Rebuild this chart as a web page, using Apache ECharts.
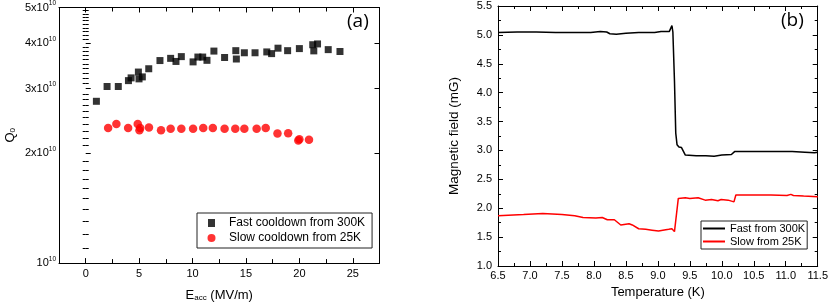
<!DOCTYPE html>
<html><head><meta charset="utf-8">
<script src="https://cdn.jsdelivr.net/npm/echarts@6/dist/echarts.min.js"></script>
<style>html,body{margin:0;padding:0;background:#fff}#c{width:831px;height:307px}</style>
</head><body><div id="c"></div>
<script>
// ---- Panel (a): Q0 vs Eacc ----
const fastE = [1.0, 2.0, 3.05, 4.0, 4.25, 4.93, 4.99, 5.3, 5.9, 6.95, 7.95, 8.45, 8.95, 10.05, 10.5, 10.95, 11.35, 12.0, 13.0, 14.05, 14.1, 14.85, 15.85, 16.95, 17.4, 18.0, 18.9, 20.0, 21.25, 21.7, 21.35, 22.7, 23.8];
const fastQ = [2.77e10, 3.04e10, 3.04e10, 3.155e10, 3.21e10, 3.33e10, 3.19e10, 3.23e10, 3.40e10, 3.58e10, 3.63e10, 3.56e10, 3.67e10, 3.55e10, 3.66e10, 3.66e10, 3.585e10, 3.80e10, 3.65e10, 3.81e10, 3.615e10, 3.76e10, 3.76e10, 3.78e10, 3.74e10, 3.87e10, 3.81e10, 3.86e10, 3.955e10, 3.975e10, 3.805e10, 3.835e10, 3.79e10];
const slowE = [2.1, 2.87, 3.97, 4.87, 5.03, 5.1, 5.92, 7.05, 7.95, 8.95, 10.05, 11.0, 11.9, 13.0, 14.0, 14.85, 16.0, 16.85, 17.95, 18.95, 19.9, 20.0, 20.9];
const slowQ = [2.34e10, 2.40e10, 2.34e10, 2.40e10, 2.31e10, 2.34e10, 2.35e10, 2.31e10, 2.33e10, 2.33e10, 2.33e10, 2.34e10, 2.34e10, 2.33e10, 2.33e10, 2.33e10, 2.33e10, 2.34e10, 2.26e10, 2.265e10, 2.165e10, 2.18e10, 2.175e10];
const eTicks = [0, 5, 10, 15, 20, 25];
const eMinorTicks = [2.5, 7.5, 12.5, 17.5, 22.5];
const qTicks = [1e10, 2e10, 3e10, 4e10, 5e10];
const qTickLabels = ['10', '2x10', '3x10', '4x10', '5x10'];
const qMinorMantissa = [1.1,1.2,1.3,1.4,1.5,1.6,1.7,1.8,1.9,2.1,2.2,2.3,2.4,2.5,2.6,2.7,2.8,2.9,3.1,3.2,3.3,3.4,3.5,3.6,3.7,3.8,3.9,4.1,4.2,4.3,4.4,4.5,4.6,4.7,4.8,4.9];
const seriesNamesA = ['Fast cooldown from 300K', 'Slow cooldown from 25K'];

// ---- Panel (b): magnetic field vs temperature ----
const fastT = [6.5, 6.8, 7.1, 7.4, 7.7, 7.95, 8.1, 8.2, 8.25, 8.35, 8.5, 8.7, 8.95, 9.05, 9.18, 9.2, 9.22, 9.235, 9.26, 9.28, 9.3, 9.33, 9.37, 9.4, 9.43, 9.6, 9.75, 9.88, 10.0, 10.15, 10.18, 10.2, 10.5, 10.8, 11.1, 11.3, 11.45, 11.5];
const fastB = [5.04, 5.05, 5.05, 5.04, 5.04, 5.04, 5.06, 5.05, 5.02, 5.01, 5.03, 5.04, 5.04, 5.06, 5.06, 5.06, 5.16, 5.05, 4.2, 3.3, 3.1, 3.06, 3.05, 3.04, 2.92, 2.91, 2.91, 2.90, 2.92, 2.93, 2.94, 2.98, 2.98, 2.98, 2.98, 2.97, 2.96, 2.97];
const slowT = [6.5, 6.9, 7.2, 7.5, 7.7, 7.83, 8.03, 8.13, 8.21, 8.32, 8.42, 8.55, 8.6, 8.7, 8.81, 8.91, 9.01, 9.17, 9.22, 9.26, 9.32, 9.43, 9.5, 9.63, 9.74, 9.84, 9.94, 9.99, 10.1, 10.19, 10.22, 10.51, 10.77, 11.02, 11.08, 11.12, 11.28, 11.5];
const slowB = [1.87, 1.89, 1.91, 1.89, 1.87, 1.84, 1.83, 1.84, 1.80, 1.80, 1.71, 1.73, 1.71, 1.645, 1.635, 1.62, 1.605, 1.635, 1.645, 1.595, 2.17, 2.18, 2.17, 2.18, 2.14, 2.15, 2.13, 2.15, 2.14, 2.11, 2.23, 2.23, 2.23, 2.22, 2.24, 2.22, 2.21, 2.20];
const seriesNamesB = ['Fast from 300K', 'Slow from 25K'];

const FONT = '"Liberation Sans", Arial, sans-serif';
const BLK = '#000';
const lg = Math.log10;
const zip = (a, b) => a.map((v, i) => [v, b[i]]);
const tl = {color: BLK, width: 1};
const noLine = {show: false};
const line = {show: true, onZero: false, lineStyle: {color: BLK, width: 1}};
const lbl = {fontSize: 11, color: BLK, fontFamily: FONT};

const qMajor = qTicks.map(lg);
const qMinor = qMinorMantissa.map(m => lg(m * 1e10));

function tickAxisA(type, pos, vals, len, withLine, extra) {
  const base = type === 'x'
    ? {gridIndex: 0, type: 'value', position: pos, min: -2.5, max: 27.5}
    : {gridIndex: 0, type: 'value', position: pos, min: qMajor[0], max: qMajor[qMajor.length - 1]};
  return Object.assign(base, {
    axisLine: withLine ? line : noLine,
    axisTick: {show: true, inside: true, length: len, customValues: vals, lineStyle: tl},
    axisLabel: {show: false},
    splitLine: {show: false}
  }, extra || {});
}

const xAxes = [
  tickAxisA('x', 'bottom', eTicks, 5, true, {
    axisLabel: Object.assign({show: true, customValues: eTicks, margin: 5}, lbl),
    name: 'E{sub|acc} (MV/m)', nameLocation: 'middle', nameGap: 20,
    nameTextStyle: {fontSize: 13, color: BLK, fontFamily: FONT,
      rich: {sub: {fontSize: 8, fontFamily: FONT, color: BLK, verticalAlign: 'bottom', lineHeight: 8, padding: [10, 0, 0, 0]}}}
  }),
  tickAxisA('x', 'bottom', eMinorTicks, 4, false),
  tickAxisA('x', 'top', eTicks, 5, true),
  tickAxisA('x', 'top', eMinorTicks, 4, false),
  {gridIndex: 1, type: 'value', position: 'bottom', min: 6.5, max: 11.5, interval: 0.5,
    axisLine: line, axisTick: {show: true, inside: true, length: 5, lineStyle: tl},
    minorTick: {show: true, splitNumber: 2, length: 3, lineStyle: tl},
    axisLabel: Object.assign({formatter: v => v.toFixed(1), margin: 4}, lbl),
    splitLine: {show: false},
    name: 'Temperature (K)', nameLocation: 'middle', nameGap: 19,
    nameTextStyle: {fontSize: 13, color: BLK, fontFamily: FONT}},
  {gridIndex: 1, type: 'value', position: 'top', min: 6.5, max: 11.5, interval: 0.5,
    axisLine: line, axisTick: {show: true, inside: true, length: 5, lineStyle: tl},
    minorTick: {show: true, splitNumber: 2, length: 3, lineStyle: tl},
    axisLabel: {show: false}, splitLine: {show: false}}
];

const yAxes = [
  {gridIndex: 0, type: 'log', logBase: 10, min: qTicks[0], max: qTicks[qTicks.length - 1], position: 'left',
    axisLine: line, axisTick: {show: false}, axisLabel: {show: false}, splitLine: {show: false},
    name: 'Q{sub|0}', nameLocation: 'middle', nameGap: 42,
    nameTextStyle: {fontSize: 13, color: BLK, fontFamily: FONT,
      rich: {sub: {fontSize: 8, fontFamily: FONT, color: BLK, verticalAlign: 'bottom', lineHeight: 8, padding: [8, 0, 0, 0]}}}},
  tickAxisA('y', 'left', qMajor, 5, false, {
    axisLabel: Object.assign({show: true, customValues: qMajor, margin: 3,
      formatter: v => {
        const i = qMajor.findIndex(q => Math.abs(q - v) < 1e-6);
        return i < 0 ? '' : qTickLabels[i] + '{sup|10}';
      },
      lineHeight: 15,
      rich: {sup: {fontSize: 6.5, fontFamily: FONT, color: BLK, verticalAlign: 'top', lineHeight: 7}}}, lbl)
  }),
  tickAxisA('y', 'left', qMinor, 3, false),
  tickAxisA('y', 'right', qMajor, 5, true),
  tickAxisA('y', 'right', qMinor, 3, false),
  {gridIndex: 1, type: 'value', position: 'left', min: 1, max: 5.5, interval: 0.5,
    axisLine: line, axisTick: {show: true, inside: true, length: 5, lineStyle: tl},
    minorTick: {show: true, splitNumber: 2, length: 3, lineStyle: tl},
    axisLabel: Object.assign({formatter: v => v.toFixed(1), margin: 6}, lbl),
    splitLine: {show: false},
    name: 'Magnetic field (mG)', nameLocation: 'middle', nameGap: 37,
    nameTextStyle: {fontSize: 13.5, color: BLK, fontFamily: FONT}},
  {gridIndex: 1, type: 'value', position: 'right', min: 1, max: 5.5, interval: 0.5,
    axisLine: line, axisTick: {show: true, inside: true, length: 5, lineStyle: tl},
    minorTick: {show: true, splitNumber: 2, length: 3, lineStyle: tl},
    axisLabel: {show: false}, splitLine: {show: false}}
];

// legend square icon: 7x7 square centred inside a 25x8 box (invisible anchor points widen the box)
const squareIcon = 'path://M0,4L0,4M9,0.5L16,0.5L16,7.5L9,7.5Z M25,4L25,4';

const chart = echarts.init(document.getElementById('c'), null, {renderer: 'canvas'});
chart.setOption({
  animation: false,
  backgroundColor: '#fff',
  grid: [
    {left: 55.5, top: 6, width: 324, height: 261, containLabel: false},
    {left: 498, top: 6, width: 323, height: 260, containLabel: false}
  ],
  xAxis: xAxes,
  yAxis: yAxes,
  legend: [
    {data: [{name: seriesNamesA[0], icon: squareIcon}, {name: seriesNamesA[1], icon: 'circle'}],
      orient: 'vertical', left: 197, top: 213, itemWidth: 25, itemHeight: 8, itemGap: 3,
      symbolKeepAspect: false,
      padding: [4, 7, 4, 2], borderColor: '#222', borderWidth: 1, borderRadius: 0,
      textStyle: {fontSize: 12, color: BLK, fontFamily: FONT}},
    {data: seriesNamesB, orient: 'vertical', left: 701, top: 221, itemWidth: 22, itemHeight: 2, itemGap: 2,
      itemStyle: {opacity: 0},
      padding: [2, 2, 2, 1], borderColor: '#222', borderWidth: 1, borderRadius: 0,
      textStyle: {fontSize: 11, color: BLK, fontFamily: FONT}}
  ],
  graphic: [
    {type: 'text', left: 347, top: 12, style: {text: '(a)', fontSize: 19, fill: BLK, fontFamily: '"Open Sans", sans-serif'}},
    {type: 'text', left: 781, top: 11, style: {text: '(b)', fontSize: 19, fill: BLK, fontFamily: '"Open Sans", sans-serif'}}
  ],
  series: [
    {name: seriesNamesA[0], type: 'scatter', xAxisIndex: 0, yAxisIndex: 0, symbol: 'rect', symbolSize: 7,
      itemStyle: {color: BLK}, data: zip(fastE, fastQ)},
    {name: seriesNamesA[1], type: 'scatter', xAxisIndex: 0, yAxisIndex: 0, symbol: 'circle', symbolSize: 8.5,
      itemStyle: {color: '#ff0000'}, data: zip(slowE, slowQ)},
    {name: seriesNamesB[0], type: 'line', xAxisIndex: 4, yAxisIndex: 5, symbol: 'none', showSymbol: false,
      lineStyle: {color: BLK, width: 1.5}, itemStyle: {color: BLK}, data: zip(fastT, fastB)},
    {name: seriesNamesB[1], type: 'line', xAxisIndex: 4, yAxisIndex: 5, symbol: 'none', showSymbol: false,
      lineStyle: {color: '#ff0000', width: 1.5}, itemStyle: {color: '#ff0000'}, data: zip(slowT, slowB)}
  ]
});
</script>
</body></html>
